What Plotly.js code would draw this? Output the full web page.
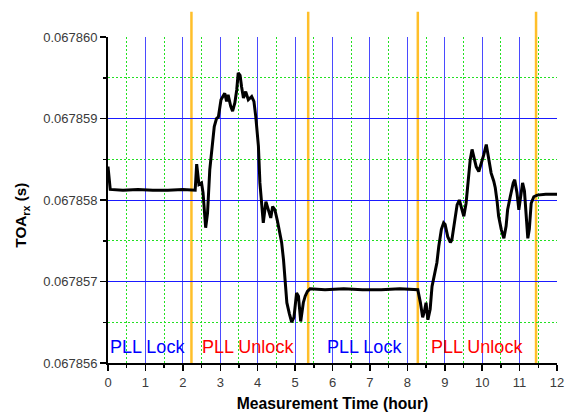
<!DOCTYPE html>
<html><head><meta charset="utf-8">
<script src="https://cdn.plot.ly/plotly-3.0.1.min.js"></script>
<style>html,body{margin:0;padding:0;background:#fff}#chart{width:568px;height:414px}</style>
</head><body><div id="chart"></div>
<script>
const hours = [0.00,0.03,0.06,0.4,0.8,1.2,1.6,2.0,2.33,2.37,2.43,2.50,2.54,2.61,2.66,2.72,2.77,2.84,2.90,2.95,
  3.02,3.08,3.12,3.17,3.21,3.28,3.33,3.39,3.44,3.48,3.53,3.57,3.62,3.68,3.75,3.84,3.90,3.95,4.02,4.06,
  4.15,4.22,4.28,4.35,4.40,4.46,4.53,4.60,4.64,4.69,4.73,4.78,4.85,4.91,4.97,5.04,5.09,5.15,5.22,5.27,
  5.33,5.40,5.8,6.3,6.8,7.3,7.8,8.28,8.35,8.41,8.46,8.50,8.55,8.61,8.66,8.73,8.79,8.84,8.91,8.97,
  9.01,9.08,9.15,9.19,9.26,9.33,9.39,9.44,9.51,9.57,9.62,9.68,9.73,9.79,9.84,9.91,9.97,10.04,10.11,10.15,
  10.20,10.24,10.31,10.35,10.40,10.44,10.51,10.58,10.64,10.68,10.75,10.83,10.87,10.93,10.98,11.02,11.08,11.13,11.18,11.22,
  11.26,11.31,11.38,11.47,11.7,12.0];
const toa = [0.06785841,0.06785820,0.06785813,0.06785812,0.06785813,0.06785812,0.06785812,0.06785813,0.06785812,0.06785844,
  0.06785819,0.06785821,0.06785809,0.06785766,0.06785784,0.06785837,0.06785862,0.06785890,0.06785900,0.06785902,
  0.06785923,0.06785927,0.06785931,0.06785921,0.06785929,0.06785915,0.06785909,0.06785919,0.06785935,0.06785956,
  0.06785953,0.06785939,0.06785925,0.06785933,0.06785923,0.06785927,0.06785921,0.06785902,0.06785866,0.06785821,
  0.06785772,0.06785798,0.06785790,0.06785778,0.06785792,0.06785788,0.06785774,0.06785760,0.06785748,0.06785727,
  0.06785699,0.06785674,0.06785660,0.06785650,0.06785656,0.06785686,0.06785682,0.06785651,0.06785674,0.06785682,
  0.06785688,0.06785691,0.06785690,0.06785691,0.06785690,0.06785690,0.06785691,0.06785690,0.06785674,0.06785656,
  0.06785664,0.06785674,0.06785653,0.06785666,0.06785694,0.06785711,0.06785723,0.06785743,0.06785764,0.06785772,
  0.06785770,0.06785755,0.06785748,0.06785751,0.06785776,0.06785794,0.06785800,0.06785790,0.06785780,0.06785796,
  0.06785821,0.06785849,0.06785862,0.06785851,0.06785841,0.06785835,0.06785843,0.06785855,0.06785868,0.06785858,
  0.06785846,0.06785833,0.06785823,0.06785815,0.06785798,0.06785780,0.06785764,0.06785753,0.06785768,0.06785788,
  0.06785804,0.06785821,0.06785825,0.06785809,0.06785788,0.06785804,0.06785821,0.06785811,0.06785776,0.06785753,
  0.06785764,0.06785796,0.06785804,0.06785806,0.06785807,0.06785807];

const transitions = [2.23, 5.35, 8.28, 11.44];
const stateLabels = ['PLL Lock', 'PLL Unlock', 'PLL Lock', 'PLL Unlock'];
const stateX = [0, 2.47, 5.80, 8.57];
const stateColors = ['#0000ff', '#ff0000', '#0000ff', '#ff0000'];
const stateLabelY = 0.0678562;
const xTickVals = [0,1,2,3,4,5,6,7,8,9,10,11,12];
const yTickVals = [0.067856, 0.067857, 0.067858, 0.067859, 0.067860];
const yTickText = ['0.067856', '0.067857', '0.067858', '0.067859', '0.067860'];

const tickFont = {family: 'Liberation Sans, Arial, sans-serif', size: 13, color: '#3a3a3a'};
const boldFont = {family: 'Liberation Sans, Arial, sans-serif', size: 15.7, color: '#000000', weight: 'bold'};

const trace = {
  x: hours, y: toa, type: 'scatter', mode: 'lines',
  line: {color: '#000000', width: 3}, hoverinfo: 'skip', showlegend: false
};

const shapes = transitions.map(t => ({
  type: 'line', xref: 'x', yref: 'paper', x0: t, x1: t, y0: 0, y1: 1.0775,
  line: {color: '#ffbf2a', width: 2.5}, layer: 'between'
}));

const annotations = stateLabels.map((s, i) => ({
  text: s, x: stateX[i], y: stateLabelY, xref: 'x', yref: 'y',
  xanchor: 'left', yanchor: 'middle', showarrow: false,
  font: {family: 'Liberation Sans, Arial, sans-serif', size: 18, color: stateColors[i]}
}));
annotations.push({
  text: 'TOA<sub>rx</sub> (s)', xref: 'paper', yref: 'paper', x: -0.1915, y: 0.452,
  xanchor: 'center', yanchor: 'middle', textangle: -90, showarrow: false,
  font: {family: 'Liberation Sans, Arial, sans-serif', size: 15.3, color: '#000000', weight: 'bold'}
});

const minorGrid = {ticks: 'outside', ticklen: 3, tickwidth: 1.5, tickcolor: '#000',
  showgrid: true, gridcolor: '#22e022', griddash: '1.5px,2.5px', gridwidth: 1};

const layout = {
  width: 568, height: 414,
  margin: {l: 108, r: 11, t: 37, b: 51},
  paper_bgcolor: '#ffffff', plot_bgcolor: '#ffffff',
  showlegend: false,
  xaxis: {
    range: [0, 12], tickmode: 'array', tickvals: xTickVals,
    ticks: 'outside', ticklen: 6, tickwidth: 1.5, tickcolor: '#000',
    showline: true, linecolor: '#000', linewidth: 2,
    showgrid: true, gridcolor: '#4a4aff', gridwidth: 1, zeroline: false,
    minor: Object.assign({tick0: 0, dtick: 0.5}, minorGrid),
    tickfont: tickFont,
    title: {text: 'Measurement Time (hour)', font: boldFont, standoff: 9}
  },
  yaxis: {
    range: [0.067856, 0.067860], tickmode: 'array', tickvals: yTickVals, ticktext: yTickText,
    ticks: 'outside', ticklen: 6, tickwidth: 1.5, tickcolor: '#000',
    showline: true, linecolor: '#000', linewidth: 2,
    showgrid: true, gridcolor: '#1a1aff', gridwidth: 1, zeroline: false,
    minor: Object.assign({tick0: 0.067856, dtick: 0.0000005}, minorGrid),
    tickfont: tickFont
  },
  shapes: shapes,
  annotations: annotations
};

Plotly.newPlot('chart', [trace], layout, {staticPlot: true, displayModeBar: false});
</script>
</body></html>
